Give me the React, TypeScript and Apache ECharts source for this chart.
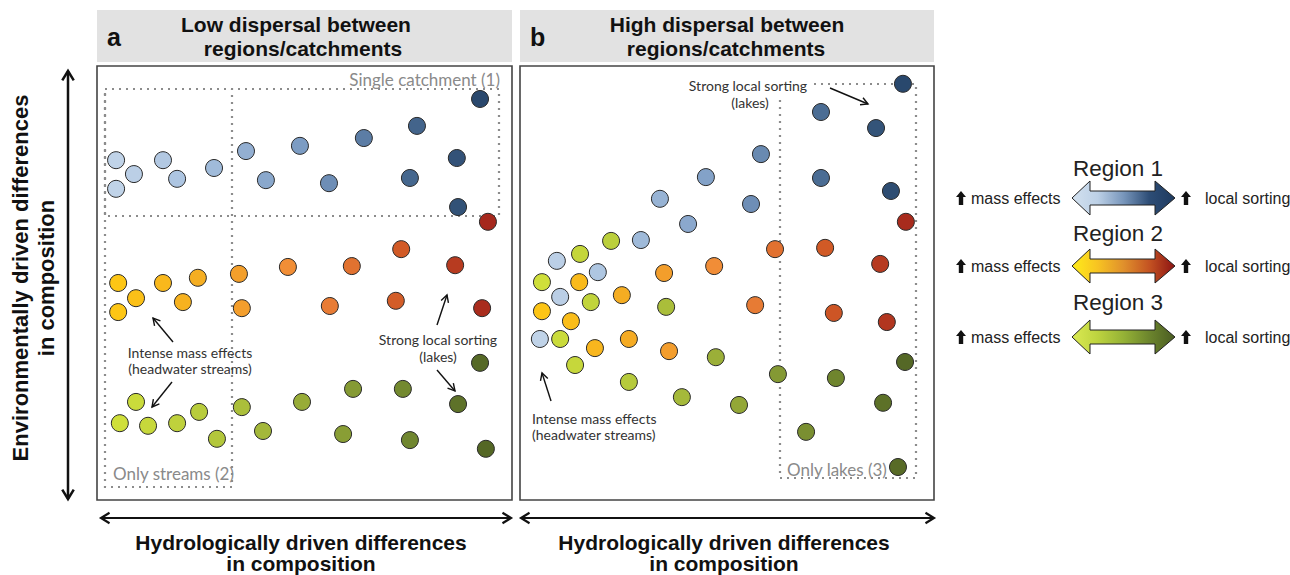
import React, { useEffect, useRef } from "react";
import * as echarts from "echarts";

// ---- data (panel coordinates 0-100 on both axes) ----
const aRegion1: [number, number][] = [
  [4.6, 78.3], [8.9, 75.1], [4.6, 71.7], [15.9, 78.3], [19.3, 74.0], [28.2, 76.5],
  [35.9, 80.4], [40.7, 73.7], [48.9, 81.6], [55.9, 73.0], [64.3, 83.4], [77.1, 86.2],
  [75.4, 74.2], [92.3, 92.4], [86.7, 78.8], [87.0, 67.5],
];
const aRegion2: [number, number][] = [
  [5.1, 50.0], [9.4, 46.5], [5.1, 43.3], [15.9, 50.0], [20.7, 45.6], [24.3, 51.2],
  [34.2, 52.1], [34.9, 44.2], [46.0, 53.7], [61.4, 53.9], [56.1, 44.7], [73.3, 57.8],
  [72.0, 45.9], [86.3, 54.1], [92.8, 44.2], [94.2, 64.1],
];
const aRegion3: [number, number][] = [
  [9.4, 22.6], [5.5, 17.7], [12.3, 17.1], [19.3, 17.7], [24.6, 20.3], [28.9, 14.1],
  [34.9, 21.4], [40.0, 15.9], [49.4, 22.6], [61.7, 25.6], [59.3, 15.2], [73.7, 25.6],
  [75.4, 13.8], [92.3, 31.6], [87.0, 22.1], [93.7, 11.8],
];
const bRegion1: [number, number][] = [
  [92.5, 95.9], [72.7, 89.4], [86.0, 85.7], [58.2, 79.7], [44.9, 74.4], [72.7, 74.2],
  [89.6, 71.2], [33.8, 69.4], [55.8, 68.2], [40.6, 63.6], [29.2, 59.9], [8.9, 55.1],
  [18.8, 52.5], [9.7, 46.8], [4.8, 37.1],
];
const bRegion2: [number, number][] = [
  [93.2, 64.1], [14.3, 50.2], [5.3, 43.5], [12.3, 41.2], [24.6, 47.2], [18.1, 35.0],
  [26.3, 37.1], [34.8, 52.3], [36.0, 34.3], [46.9, 53.9], [56.8, 44.9], [61.6, 57.8],
  [73.7, 58.1], [87.0, 54.4], [75.8, 43.1], [88.6, 41.0],
];
const bRegion3: [number, number][] = [
  [22.0, 59.7], [14.5, 56.7], [5.3, 50.2], [17.1, 45.6], [9.7, 37.1], [13.3, 31.1],
  [26.3, 27.2], [35.3, 44.5], [47.3, 32.9], [39.1, 23.7], [52.9, 21.9], [62.3, 29.0],
  [76.3, 28.1], [93.0, 31.8], [87.7, 22.4], [69.1, 15.7], [91.3, 7.6],
];

const regionNames = ["Region 1", "Region 2", "Region 3"];
const panelLetters = ["a", "b"];
const panelTitles = [
  ["Low dispersal between", "regions/catchments"],
  ["High dispersal between", "regions/catchments"],
];
const yAxisTitle = ["Environmentally driven differences", "in composition"];
const xAxisTitle = ["Hydrologically driven differences", "in composition"];

const ramp1 = ["#c6d7ea", "#a6c0de", "#7a9ac2", "#46688f", "#1d3a5e"];
const ramp2 = ["#ffcc12", "#f5ad22", "#f0883a", "#cf5725", "#9a1a1a"];
const ramp3 = ["#d5e43a", "#b8cc3c", "#97ab38", "#71872f", "#4a5c22"];

const ANN_FONT = "Lato, 'Open Sans', sans-serif";
const BOLD_FONT = "'Liberation Sans', Arial, sans-serif";

function txt(x: number, y: number, text: string, o: any = {}) {
  return {
    type: "text",
    x,
    y,
    rotation: o.rotation || 0,
    z: 10,
    style: {
      text,
      fill: o.fill || "#333",
      fontSize: o.size || 14,
      fontFamily: o.family || ANN_FONT,
      fontWeight: o.weight || "normal",
      align: o.align || "center",
      textAlign: o.align || "center",
      verticalAlign: "middle",
      textVerticalAlign: "middle",
    },
  };
}

function arrow(x1: number, y1: number, x2: number, y2: number, o: any = {}) {
  const w = o.w || 1.4;
  const head = o.head || 8;
  const color = o.color || "#111";
  const spread = o.spread || 0.5;
  const ang = Math.atan2(y2 - y1, x2 - x1);
  const hp = (x: number, y: number, a: number) => [
    [x - head * Math.cos(a - spread), y - head * Math.sin(a - spread)],
    [x, y],
    [x - head * Math.cos(a + spread), y - head * Math.sin(a + spread)],
  ];
  const els: any[] = [
    { type: "line", z: 10, shape: { x1, y1, x2, y2 }, style: { stroke: color, lineWidth: w } },
    { type: "polyline", z: 10, shape: { points: hp(x2, y2, ang) }, style: { stroke: color, lineWidth: w, fill: null } },
  ];
  if (o.both) {
    els.push({ type: "polyline", z: 10, shape: { points: hp(x1, y1, ang + Math.PI) }, style: { stroke: color, lineWidth: w, fill: null } });
  }
  return els;
}

function blockArrow(cy: number, stops: string[]) {
  const L = 1072, R = 1175, il = 1090, ir = 1155;
  const pts = [
    [L, cy], [il, cy - 17], [il, cy - 7], [ir, cy - 7], [ir, cy - 17],
    [R, cy], [ir, cy + 17], [ir, cy + 7], [il, cy + 7], [il, cy + 17],
  ];
  return {
    type: "polygon",
    z: 10,
    shape: { points: pts },
    style: {
      fill: new echarts.graphic.LinearGradient(0, 0, 1, 0,
        stops.map((c, i) => ({ offset: i / (stops.length - 1), color: c }))),
      stroke: "#222",
      lineWidth: 1,
    },
  };
}

function upIcon(x: number, y: number) {
  return {
    type: "polygon",
    z: 10,
    shape: {
      points: [
        [x - 5, y - 1], [x, y - 7], [x + 5, y - 1], [x + 2.2, y - 1],
        [x + 2.2, y + 7], [x - 2.2, y + 7], [x - 2.2, y - 1],
      ],
    },
    style: { fill: "#111" },
  };
}

const dot = { stroke: "#8c8c8c", lineWidth: 2.2, lineDash: [2, 5], fill: null };

export default function App() {
  const ref = useRef<HTMLDivElement>(null);
  useEffect(() => {
    const chart = echarts.init(ref.current!, null, { renderer: "svg" });
    const series: any[] = [];
    const sets = [aRegion1, aRegion2, aRegion3, bRegion1, bRegion2, bRegion3];
    sets.forEach((d, i) => {
      const panel = i < 3 ? 0 : 1;
      series.push({
        type: "scatter",
        name: regionNames[i % 3],
        xAxisIndex: panel,
        yAxisIndex: panel,
        data: d,
        symbolSize: 17,
        z: 5,
        itemStyle: { borderColor: "#2b2b2b", borderWidth: 1, opacity: 1 },
      });
    });

    const legendYs = [198, 266, 337];
    const legendTitleYs = [168, 233, 302];
    const gradStops = [
      ["#d3e1ef", "#bcd0e6", "#7896bb", "#2d4d76", "#1e3a5f"],
      ["#ffec1a", "#f7c322", "#e0902c", "#c45322", "#8c1313"],
      ["#dbea52", "#bdd33f", "#95b236", "#6c852d", "#4a5c22"],
    ];
    const bold = { weight: "bold", family: BOLD_FONT, fill: "#111" };

    const elements: any[] = [];
    // headers
    [97, 520].forEach((x, i) => {
      elements.push({ type: "rect", z: 1, shape: { x, y: 10, width: i ? 414 : 415, height: 52 }, style: { fill: "#e2e2e2" } });
      elements.push(txt(x + 10, 37, panelLetters[i], { ...bold, align: "left", size: 25 }));
      elements.push(txt(i ? 727 : 296, 24, panelTitles[i][0], { ...bold, size: 21 }));
      elements.push(txt(i ? 726 : 303, 48, panelTitles[i][1], { ...bold, size: 21 }));
      elements.push({ type: "rect", z: 1, shape: { x, y: 66, width: i ? 414 : 415, height: 434 }, style: { fill: null, stroke: "#444", lineWidth: 1.6 } });
    });
    // dotted boxes
    elements.push({ type: "rect", z: 2, shape: { x: 105, y: 89, width: 394, height: 127 }, style: dot });
    elements.push({ type: "rect", z: 2, shape: { x: 105, y: 89, width: 127, height: 398 }, style: dot });
    elements.push({ type: "polyline", z: 2, shape: { points: [[814, 84], [916, 84], [916, 478], [780, 478], [780, 98]] }, style: dot });
    elements.push(txt(500, 79, "Single catchment (1)", { align: "right", size: 17, fill: "#8a8a8a" }));
    elements.push(txt(113, 473, "Only streams (2)", { align: "left", size: 17, fill: "#8a8a8a" }));
    elements.push(txt(787, 469, "Only lakes (3)", { align: "left", size: 17, fill: "#8a8a8a" }));
    // annotations a
    elements.push(txt(190, 352, "Intense mass effects"));
    elements.push(txt(190, 368, "(headwater streams)"));
    elements.push(...arrow(173, 342, 153, 318));
    elements.push(...arrow(172, 382, 152, 407));
    elements.push(txt(438, 339, "Strong local sorting"));
    elements.push(txt(438, 356, "(lakes)"));
    elements.push(...arrow(437, 325, 447, 295));
    elements.push(...arrow(437, 370, 455, 391));
    // annotations b
    elements.push(txt(748, 85, "Strong local sorting"));
    elements.push(txt(750, 102, "(lakes)"));
    elements.push(...arrow(830, 88, 868, 104));
    elements.push(txt(532, 418, "Intense mass effects", { align: "left" }));
    elements.push(txt(532, 434, "(headwater streams)", { align: "left" }));
    elements.push(...arrow(551, 401, 542, 373));
    // axes arrows
    elements.push(...arrow(68, 71, 68, 499, { both: true, w: 2.5, head: 11, spread: 0.55 }));
    elements.push(...arrow(101, 518, 511, 518, { both: true, w: 2.2, head: 10, spread: 0.55 }));
    elements.push(...arrow(521, 518, 934, 518, { both: true, w: 2.2, head: 10, spread: 0.55 }));
    elements.push(txt(20, 278, yAxisTitle[0], { ...bold, size: 22, rotation: Math.PI / 2 }));
    elements.push(txt(46, 278, yAxisTitle[1], { ...bold, size: 22, rotation: Math.PI / 2 }));
    [301, 724].forEach((cx) => {
      elements.push(txt(cx, 542, xAxisTitle[0], { ...bold, size: 21 }));
      elements.push(txt(cx, 563, xAxisTitle[1], { ...bold, size: 21 }));
    });
    // legend
    regionNames.forEach((name, i) => {
      elements.push(txt(1118, legendTitleYs[i], name, { size: 22.5, family: BOLD_FONT, fill: "#222" }));
      elements.push(blockArrow(legendYs[i], gradStops[i]));
      elements.push(upIcon(961, legendYs[i]));
      elements.push(txt(971, legendYs[i], "mass effects", { align: "left", size: 16, family: BOLD_FONT, fill: "#222" }));
      elements.push(upIcon(1186, legendYs[i]));
      elements.push(txt(1205, legendYs[i], "local sorting", { align: "left", size: 16, family: BOLD_FONT, fill: "#222" }));
    });

    chart.setOption({
      animation: false,
      backgroundColor: "#ffffff",
      grid: [
        { left: 97, top: 66, width: 415, height: 434 },
        { left: 520, top: 66, width: 414, height: 434 },
      ],
      xAxis: [
        { type: "value", gridIndex: 0, min: 0, max: 100, show: false },
        { type: "value", gridIndex: 1, min: 0, max: 100, show: false },
      ],
      yAxis: [
        { type: "value", gridIndex: 0, min: 0, max: 100, show: false },
        { type: "value", gridIndex: 1, min: 0, max: 100, show: false },
      ],
      visualMap: [
        { type: "continuous", show: false, dimension: 0, min: 0, max: 100, seriesIndex: [0, 3], inRange: { color: ramp1 } },
        { type: "continuous", show: false, dimension: 0, min: 0, max: 100, seriesIndex: [1, 4], inRange: { color: ramp2 } },
        { type: "continuous", show: false, dimension: 0, min: 0, max: 100, seriesIndex: [2, 5], inRange: { color: ramp3 } },
      ],
      series,
      graphic: { elements },
    });
    return () => chart.dispose();
  }, []);
  return (
    <div
      ref={ref}
      style={{ position: "fixed", left: 0, top: 0, width: 1290, height: 575, background: "#fff" }}
    />
  );
}
